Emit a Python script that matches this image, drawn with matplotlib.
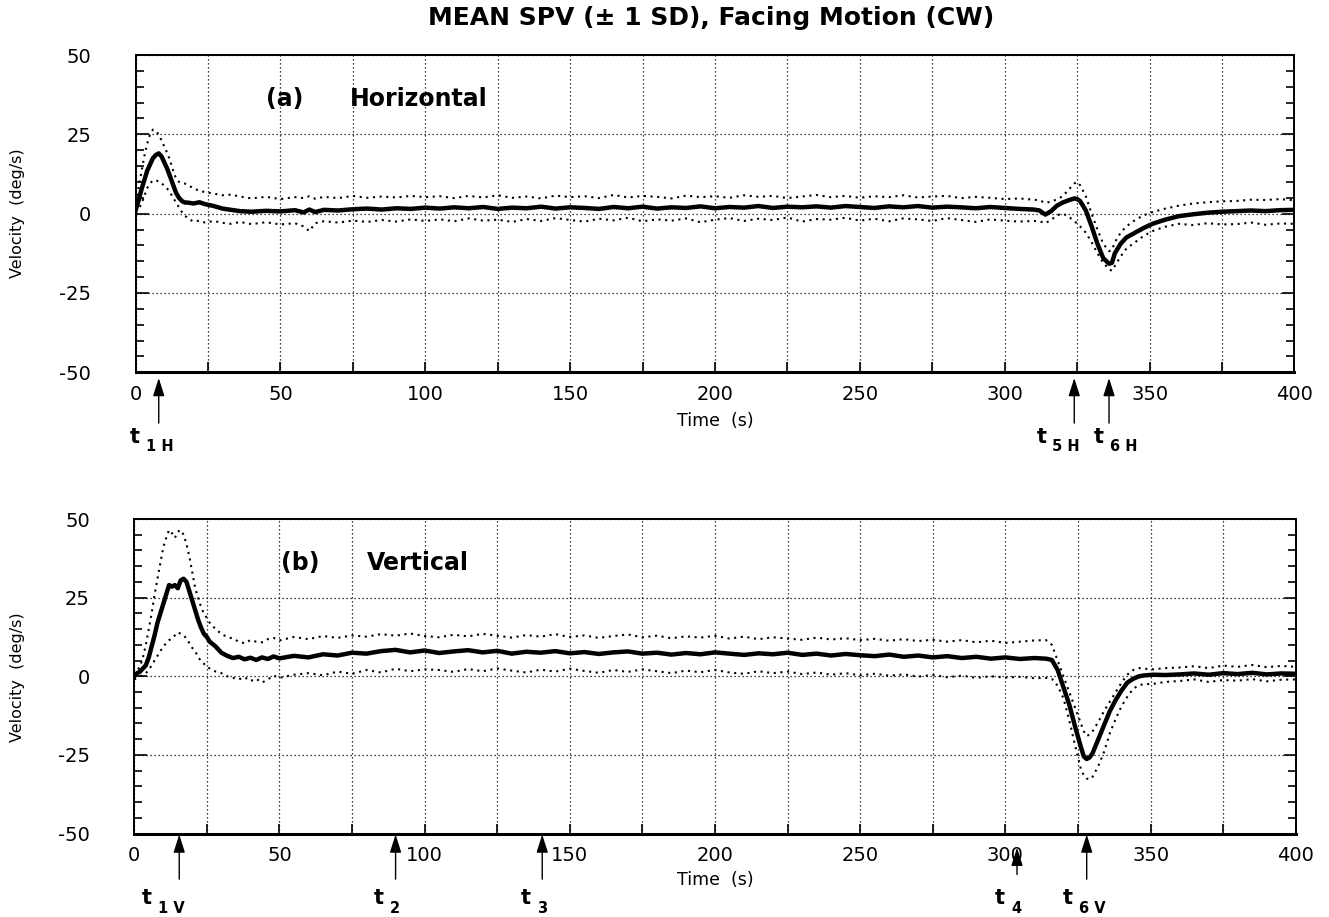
import matplotlib

matplotlib.use("Agg")
import matplotlib.pyplot as plt
import numpy as np
from matplotlib.ticker import MultipleLocator

plt.rcParams.update({"font.family": "DejaVu Sans", "text.color": "black", "axes.unicode_minus": False})

# ---- data -----------------------------------------------------------------
# (a) Horizontal
t_h = [0, 1, 2, 3, 4, 5, 6, 7, 8, 9, 10, 11, 12, 13, 14, 15, 16, 17, 18,
       20, 22, 24, 27, 30, 33, 36, 40, 45, 50, 55, 58, 60, 62, 65, 70, 75, 80, 85, 90, 95, 100,
       105, 110, 115, 120, 125, 130, 135, 140, 145, 150, 155, 160, 165, 170, 175, 180, 185, 190,
       195, 200, 205, 210, 215, 220, 225, 230, 235, 240, 245, 250, 255, 260, 265, 270, 275, 280,
       285, 290, 295, 300, 305, 310,
       312, 314, 316, 318, 320, 322, 324, 325, 326, 328, 330, 332, 334, 336, 337, 338, 340, 342,
       345, 348, 351, 355,
       360, 365, 370, 375, 380, 385, 390, 395, 400]
mean_h = [1.0, 4.0, 7.5, 10.5, 13.5, 15.5, 17.5, 18.5, 19.0, 18.0, 16.0, 14.0, 11.5, 9.0, 6.5, 5.0, 4.0, 3.5, 3.5,
          3.2, 3.6, 3.0, 2.4, 1.6, 1.2, 0.8, 0.6, 0.9, 0.7, 1.1, 0.4, 1.3, 0.5, 1.2, 1.0, 1.4, 1.6, 1.3, 1.7, 1.5, 1.9,
          1.6, 2.0, 1.7, 2.1, 1.5, 1.9, 1.7, 2.2, 1.6, 2.0, 1.8, 1.5, 2.1, 1.7, 2.2, 1.6, 2.0, 1.8,
          2.3, 1.7, 2.1, 1.9, 2.4, 1.8, 2.2, 2.0, 2.3, 1.9, 2.4, 2.1, 1.8, 2.3, 2.0, 2.4, 1.9, 2.2,
          2.0, 1.7, 2.1, 1.8, 1.5, 1.3,
          1.0, -0.3, 0.8, 2.5, 3.5, 4.2, 4.8, 4.6, 4.0, 1.0, -4.0, -9.5, -14.0, -15.8, -15.5, -12.5, -9.5, -7.5,
          -6.0, -4.5, -3.2, -2.0,
          -0.8, -0.2, 0.3, 0.6, 0.8, 1.0, 0.8, 1.1, 1.2]
upper_h = [1.5, 8.0, 13.0, 18.0, 22.0, 25.0, 26.5, 26.0, 25.0, 23.0, 21.0, 19.0, 16.5, 13.5, 11.0, 10.0, 9.5, 9.5, 9.0,
           8.0, 7.2, 6.8, 6.3, 5.8, 6.0, 5.4, 4.8, 5.3, 4.6, 5.2, 4.9, 5.5, 4.7, 5.3, 4.9, 5.6, 5.0, 5.4, 5.1, 5.6, 5.2,
           5.5, 4.9, 5.6, 5.1, 5.8, 5.0, 5.4, 4.8, 5.7, 5.2, 5.5, 4.9, 5.9, 5.1, 5.6, 5.3, 4.8, 5.7,
           5.2, 5.5, 5.0, 5.8, 5.3, 5.6, 4.9, 5.4, 5.9, 5.2, 5.6, 5.0, 5.5, 5.2, 5.8, 5.1, 5.4, 5.6,
           4.9, 5.3, 5.0, 4.6, 4.8, 4.4,
           4.2, 3.4, 3.8, 4.5, 5.5, 7.5, 9.5, 10.0, 9.0, 5.5, 0.0, -5.0, -9.5, -11.8, -11.5, -9.0, -6.0, -4.0,
           -2.0, -0.5, 0.5, 1.5,
           2.5, 3.2, 3.6, 3.9, 4.0, 4.4, 4.3, 4.6, 4.2]
lower_h = [0.5, 1.5, 3.0, 5.5, 8.0, 9.5, 10.5, 10.5, 10.2, 9.5, 8.8, 7.8, 6.5, 5.0, 3.5, 2.0, 0.5, -0.5, -1.5,
           -2.5, -2.2, -2.8, -2.3, -2.9, -3.2, -2.6, -3.3, -2.7, -3.4, -3.0, -4.0, -5.5, -3.0, -2.4, -2.8, -2.2, -2.6,
           -2.0, -2.5, -1.8, -2.3,
           -1.8, -2.4, -1.5, -2.2, -1.9, -2.6, -1.7, -2.3, -1.4, -2.0, -2.5, -1.6, -2.1, -1.3, -2.4, -1.8, -2.2, -1.5,
           -2.7, -1.9, -1.4, -2.3, -1.6, -2.0, -1.2, -2.5, -1.7, -1.9, -1.3, -2.2, -1.6, -2.4, -1.5, -1.8, -2.3, -1.4,
           -2.0, -2.6, -1.8, -2.2, -2.5, -2.3,
           -2.4, -3.0, -2.0, -0.5, 0.0, -0.8, -2.5, -3.0, -4.0, -6.0, -9.0, -12.5, -15.5, -17.5, -18.0, -16.5,
           -13.5, -11.0, -9.0, -7.0, -5.5, -4.2,
           -3.2, -3.6, -3.0, -3.4, -3.3, -2.8, -3.5, -3.1, -3.2]

# (b) Vertical
t_v = [0, 1, 2, 3, 4, 5, 6, 7, 8, 9, 10, 11, 12, 13, 14, 15, 16, 17, 18, 19, 20, 21, 22, 23, 24, 25,
       26, 28, 30, 32, 34, 36, 38, 40, 42, 44, 46, 48, 50, 55, 60, 65, 70, 75, 80, 85, 90, 95, 100,
       105, 110, 115, 120, 125, 130, 135, 140, 145, 150, 155, 160, 165, 170, 175, 180, 185, 190,
       195, 200, 205, 210, 215, 220, 225, 230, 235, 240, 245, 250, 255, 260, 265, 270, 275, 280,
       285, 290, 295, 300, 305, 310,
       314, 316, 318, 320, 322, 324, 326, 327, 328, 329, 330, 332, 334, 336, 338, 340, 342, 344,
       346, 348, 351, 355,
       360, 365, 370, 375, 380, 385, 390, 395, 400]
mean_v = [0.0, 1.0, 1.5, 2.5, 3.5, 6.0, 9.5, 13.0, 17.0, 20.0, 23.0, 26.0, 29.0, 28.5, 29.0, 28.0, 30.5, 31.0,
          30.0, 27.0, 24.0, 21.0, 18.0, 15.5, 13.5, 12.5,
          11.0, 9.5, 7.5, 6.5, 5.8, 6.2, 5.4, 5.9, 5.2, 6.0, 5.5, 6.3, 5.7, 6.5, 6.0, 7.0, 6.6, 7.5, 7.2, 8.0,
          8.4, 7.6, 8.2,
          7.4, 7.9, 8.3, 7.6, 8.1, 7.2, 7.8, 7.5, 8.0, 7.3, 7.7, 7.1, 7.6, 7.9, 7.2, 7.5, 6.9, 7.4,
          7.0, 7.6, 7.2, 6.8, 7.3, 7.0, 7.5, 6.8, 7.2, 6.6, 7.1, 6.7, 6.4, 6.9, 6.2, 6.6, 6.0, 6.4,
          5.8, 6.2, 5.6, 6.0, 5.5, 5.8,
          5.6, 5.2, 2.0, -3.5, -9.0, -16.0, -22.5, -25.5, -26.3, -25.8, -24.5, -20.0, -15.5, -11.0, -7.5,
          -4.5, -2.0, -0.8, 0.0, 0.3, 0.5, 0.4,
          0.6, 0.9, 0.5, 1.0, 0.7, 1.1, 0.6, 0.9, 0.8]
upper_v = [0.5, 2.0, 3.0, 6.0, 10.0, 15.0, 20.0, 26.0, 31.0, 36.0, 41.0, 44.0, 46.5, 45.5, 44.0, 46.0, 46.5,
           45.0, 42.0, 38.0, 33.0, 28.0, 25.0, 22.0, 20.0, 18.5,
           17.0, 15.0, 13.5, 12.5, 12.0, 11.0, 10.5, 11.5, 11.0, 10.8, 11.8, 12.2, 11.4, 12.5, 11.8, 12.8,
           12.2, 13.0, 12.6, 13.4, 12.9, 13.6, 12.8,
           12.4, 13.2, 12.7, 13.5, 12.9, 12.3, 13.1, 12.6, 13.4, 12.5, 13.0, 12.2, 12.8, 13.3, 12.4, 12.9,
           12.1, 12.7, 12.3, 12.9, 12.0, 12.6, 11.8, 12.4, 12.0, 11.6, 12.3, 11.7, 12.1, 11.5, 11.9, 11.3,
           11.8, 11.2, 11.6, 11.0, 11.5, 10.8, 11.3, 10.6, 11.0, 11.4,
           11.5, 10.0, 5.0, 0.0, -5.0, -10.0, -15.0, -17.5, -19.0, -18.5, -17.5, -14.5, -11.0, -8.0, -5.0,
           -2.0, 0.5, 2.0, 2.6, 2.4, 2.2, 2.6,
           2.8, 3.2, 2.6, 3.4, 3.0, 3.6, 2.9, 3.3, 3.0]
lower_v = [-1.0, -0.5, 0.0, 0.5, 1.0, 2.0, 3.5, 5.0, 6.5, 8.0, 9.5, 10.5, 11.5, 12.0, 13.0, 14.0, 13.5,
           13.0, 12.0, 10.5, 9.0, 8.0, 6.0, 5.0, 4.0, 3.0,
           2.5, 1.5, 1.0, 0.0, -0.5, -1.0, -0.3, -1.5, -0.8, -2.0, -1.0, 0.2, -0.5, 0.5, 1.0, 0.3, 1.5,
           0.8, 2.0, 1.2, 2.4, 1.6, 2.2,
           2.0, 1.4, 2.3, 1.6, 2.5, 1.8, 1.2, 2.1, 1.5, 2.4, 1.7, 1.1, 2.0, 1.4, 2.2, 1.6, 1.0, 1.8,
           1.3, 2.0, 1.2, 0.8, 1.6, 1.0, 1.5, 0.7, 1.2, 0.5, 1.0, 0.3, 0.8, 0.2, 0.6, -0.1, 0.4, -0.3,
           0.2, -0.5, 0.0, -0.4, -0.2, -0.6,
           -0.5, -0.8, -3.0, -7.0, -14.0, -22.0, -29.5, -31.5, -32.5, -32.8, -32.0, -28.5, -24.0, -18.0,
           -13.5, -9.5, -6.5, -4.0, -2.8, -2.5, -2.4, -1.8,
           -1.5, -1.0, -1.8, -1.2, -1.4, -0.9, -1.6, -1.1, -1.0]

# event markers below each panel: time and subscript
ev_h_time = [8, 324, 336]
ev_h_sub = ["1H", "5H", "6H"]
ev_v_time = [15.5, 90, 140.5, 328]
ev_v_sub = ["1V", "2", "3", "6V"]
ev_t4_time = 304

x_ticks = [0, 50, 100, 150, 200, 250, 300, 350, 400]
y_ticks = [-50, -25, 0, 25, 50]

# ---- figure -----------------------------------------------------------------
fig = plt.figure(figsize=(13.29, 9.17), dpi=100)
fig.patch.set_facecolor("white")
ax1 = fig.add_axes([0.102, 0.594, 0.872, 0.346])
ax2 = fig.add_axes([0.101, 0.091, 0.874, 0.343])

DOT = (0, (1, 2.2))
PX = 0.72  # points per pixel at dpi 100


def style(ax):
    ax.set_xlim(0, 400)
    ax.set_ylim(-50, 50)
    ax.set_xticks(x_ticks)
    ax.set_yticks(y_ticks)
    ax.xaxis.set_minor_locator(MultipleLocator(25))
    ax.yaxis.set_minor_locator(MultipleLocator(5))
    ax.tick_params(axis="x", which="both", direction="in", length=7, width=1.2, top=False,
                   labelsize=14, pad=9)
    ax.tick_params(axis="y", which="both", direction="in", length=6, width=1.2, right=True,
                   labelsize=14, pad=32)
    ax.tick_params(axis="y", which="major", length=9)
    ax.grid(True, which="major", axis="both", color="black", lw=0.9, ls=DOT)
    ax.grid(True, which="minor", axis="x", color="black", lw=0.9, ls=DOT)
    for sp in ax.spines.values():
        sp.set_linewidth(1.4)
    ax.spines["bottom"].set_linewidth(2.2)


def event(ax, t, sub, dx, tip, tail, lab_y, ax_h_px):
    """Upward arrow below the axis plus a bold 't' label with subscript.
    dx: pixel offset of the 't' centre from the arrow."""
    ax.annotate("", xy=(t, tip), xytext=(t, tail), xycoords=("data", "axes fraction"),
                textcoords=("data", "axes fraction"),
                arrowprops=dict(arrowstyle="-|>,head_length=1.1,head_width=0.35", color="black",
                                lw=1.0, shrinkA=0, shrinkB=0), annotation_clip=False)
    ax.annotate("t", xy=(t, lab_y), xycoords=("data", "axes fraction"), xytext=(dx * PX, 0),
                textcoords="offset points", ha="center", va="center", fontsize=15,
                fontweight="bold", annotation_clip=False)
    ax.annotate(" ".join(sub), xy=(t, lab_y), xycoords=("data", "axes fraction"),
                xytext=((dx + 11) * PX, -10 * PX), textcoords="offset points", ha="left",
                va="center", fontsize=10.5, fontweight="bold", annotation_clip=False)


# (a) Horizontal
style(ax1)
ax1.plot(t_h, upper_h, color="black", lw=1.5, ls=DOT)
ax1.plot(t_h, lower_h, color="black", lw=1.5, ls=DOT)
ax1.plot(t_h, mean_h, color="black", lw=3.2)
ax1.text(45, 36, "(a)", fontsize=17, fontweight="bold", va="center", ha="left")
ax1.text(74, 36, "Horizontal", fontsize=17, fontweight="bold", va="center", ha="left")
for t, sub, dx in zip(ev_h_time, ev_h_sub, [-24, -33, -10]):
    event(ax1, t, sub, dx, tip=-0.018, tail=-0.16, lab_y=-0.203, ax_h_px=317)

# (b) Vertical
style(ax2)
ax2.plot(t_v, upper_v, color="black", lw=1.5, ls=DOT)
ax2.plot(t_v, lower_v, color="black", lw=1.5, ls=DOT)
ax2.plot(t_v, mean_v, color="black", lw=3.2)
ax2.text(50.5, 36, "(b)", fontsize=17, fontweight="bold", va="center", ha="left")
ax2.text(80, 36, "Vertical", fontsize=17, fontweight="bold", va="center", ha="left")
for t, sub, dx in zip(ev_v_time, ev_v_sub, [-32, -17, -16, -19]):
    event(ax2, t, sub, dx, tip=-0.003, tail=-0.145, lab_y=-0.205, ax_h_px=315)
event(ax2, ev_t4_time, "4", -17, tip=-0.045, tail=-0.13, lab_y=-0.205, ax_h_px=315)

# labels
fig.text(0.535, 0.980, "MEAN SPV (\u00b1 1 SD), Facing Motion (CW)", ha="center", va="center",
         fontsize=18, fontweight="bold")
fig.text(0.538, 0.541, "Time  (s)", ha="center", va="center", fontsize=12.5)
fig.text(0.538, 0.040, "Time  (s)", ha="center", va="center", fontsize=12.5)
fig.text(0.0135, 0.767, "Velocity  (deg/s)", rotation=90, ha="center", va="center", fontsize=11.5)
fig.text(0.0135, 0.262, "Velocity  (deg/s)", rotation=90, ha="center", va="center", fontsize=11.5)

fig.savefig("out.png", dpi=100, facecolor="white")
